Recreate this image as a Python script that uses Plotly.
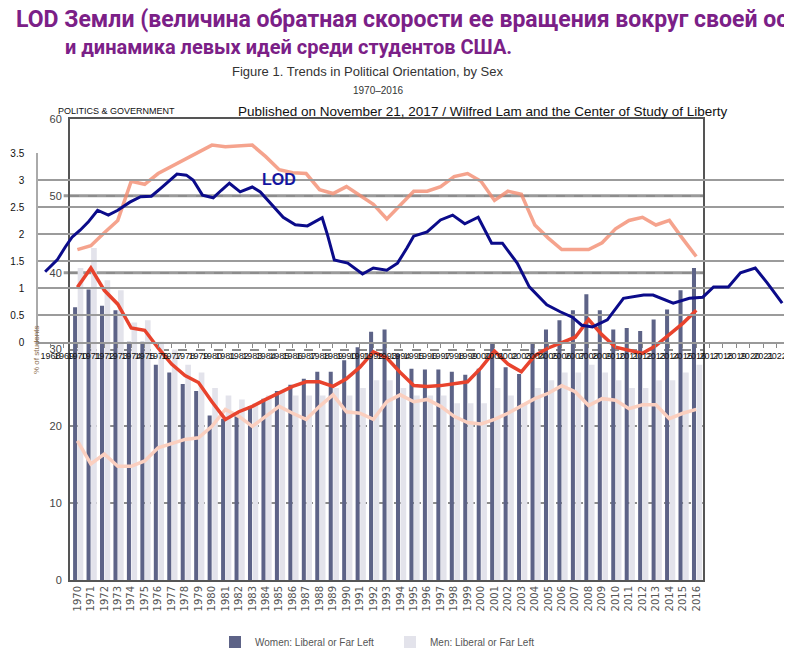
import plotly.graph_objects as go

PAGE_W, PAGE_H = 792, 659
OFF = 8                      # default page margin of the html body
W, H = PAGE_W - OFF, PAGE_H - OFF

# ---------------- data ----------------
years = list(range(1970, 2017))

women_liberal = [35.5, 37.8, 35.7, 35.1, 31.0, 31.0, 28.0, 27.0, 25.5, 24.6,
                 21.4, 21.0, 21.7, 22.6, 23.6, 24.6, 25.4, 26.2, 27.1, 27.1,
                 28.6, 30.3, 32.3, 32.6, 29.4, 27.5, 27.4, 27.4, 27.1, 26.7,
                 27.5, 30.7, 27.7, 26.8, 30.7, 32.6, 33.8, 35.1, 37.2, 35.1,
                 32.6, 32.8, 32.4, 33.9, 35.2, 37.7, 40.6]

men_liberal = [40.6, 43.2, 39.0, 37.7, 33.5, 33.8, 31.0, 30.0, 28.0, 27.0,
               25.0, 24.0, 23.5, 23.0, 24.0, 24.5, 24.0, 24.0, 24.0, 25.0,
               24.0, 25.0, 26.0, 26.0, 25.0, 24.0, 24.0, 24.0, 23.0, 23.0,
               23.0, 25.0, 24.0, 23.0, 25.0, 26.0, 27.0, 27.0, 28.0, 27.0,
               26.0, 25.0, 25.0, 26.0, 26.0, 27.0, 28.0]

women_trend = [38.1, 40.6, 37.7, 35.9, 32.8, 32.5, 30.2, 28.1, 26.6, 25.7,
               23.2, 20.9, 21.9, 22.6, 23.5, 24.3, 25.2, 25.8, 25.8, 25.2,
               26.2, 27.7, 29.7, 28.9, 27.0, 25.3, 25.2, 25.3, 25.5, 25.8,
               27.6, 29.8, 28.1, 27.1, 29.2, 30.2, 30.9, 31.6, 33.9, 31.9,
               30.3, 29.9, 29.5, 30.5, 31.9, 33.4, 35.1]

men_trend = [18.1, 15.1, 16.4, 14.8, 14.8, 15.5, 17.2, 17.7, 18.3, 18.5,
             20.0, 22.2, 21.3, 20.0, 21.3, 22.6, 21.7, 20.9, 22.6, 24.1,
             21.9, 21.7, 20.9, 23.2, 24.1, 23.2, 23.5, 22.6, 21.3, 20.5,
             20.3, 20.9, 21.7, 22.7, 23.6, 24.3, 25.3, 24.5, 22.7, 23.6,
             23.4, 22.3, 22.8, 22.8, 21.0, 21.7, 22.2]

upper_trend = [43.0, 43.5, 45.2, 46.8, 51.9, 51.5, 52.9, 53.8, 54.7, 55.6,
               56.6, 56.4, 56.5, 56.6, 55.1, 53.4, 53.0, 52.9, 50.8, 50.3,
               51.2, 50.1, 48.9, 47.0, 48.8, 50.6, 50.6, 51.2, 52.5, 52.9,
               51.9, 49.4, 50.6, 50.2, 46.2, 44.5, 43.0, 43.0, 43.0, 43.9,
               45.7, 46.8, 47.2, 46.2, 46.8, 44.4, 42.1]

lod_years = [1967.6, 1968.5, 1969.1, 1969.6, 1970.2, 1970.8, 1971.5, 1972.3, 1973.0,
             1973.9, 1974.7, 1975.5, 1976.3, 1976.9, 1977.4, 1978.1, 1978.6, 1979.3,
             1980.1, 1980.7, 1981.3, 1982.1, 1983.0, 1983.6, 1984.3, 1985.3, 1986.2,
             1987.1, 1988.2, 1988.6, 1989.1, 1990.1, 1991.2, 1992.0, 1993.0, 1993.8,
             1994.5, 1995.0, 1996.0, 1997.0, 1997.9, 1998.8, 1999.8, 2000.8, 2001.6,
             2002.7, 2003.6, 2004.9, 2005.9, 2006.8, 2007.5, 2008.3, 2009.4, 2010.6,
             2012.1, 2012.8, 2014.3, 2015.5, 2016.5, 2017.3, 2018.4, 2019.3, 2020.4,
             2021.3, 2022.4]
lod_values = [1.30, 1.52, 1.76, 1.94, 2.07, 2.22, 2.44, 2.35, 2.44,
              2.59, 2.69, 2.70, 2.87, 3.00, 3.11, 3.09, 3.00, 2.72,
              2.67, 2.81, 2.94, 2.78, 2.87, 2.78, 2.59, 2.31, 2.17,
              2.15, 2.30, 1.98, 1.52, 1.46, 1.26, 1.37, 1.33, 1.46,
              1.74, 1.96, 2.04, 2.26, 2.35, 2.19, 2.31, 1.83, 1.83,
              1.46, 1.02, 0.69, 0.56, 0.46, 0.31, 0.28, 0.41, 0.81,
              0.87, 0.87, 0.72, 0.81, 0.83, 1.02, 1.02, 1.28, 1.37,
              1.09, 0.72]

lod_axis_years = list(range(1967, 2023))
bar_y_ticks = [0, 10, 20, 30, 40, 50, 60]
lod_y_ticks = [0, 0.5, 1, 1.5, 2, 2.5, 3, 3.5]
lod_y_labels = ["0", "0.5", "1", "1.5", "2", "2.5", "3", "3.5"]


def px(p):
    """page pixel x -> paper fraction"""
    return (p - OFF) / W


def py(p):
    """page pixel y -> paper fraction"""
    return 1 - (p - OFF) / H


fig = go.Figure()

fig.add_trace(go.Bar(x=years, y=women_liberal, name="Women: Liberal or Far Left",
                     marker=dict(color="#5d6387", line=dict(width=0)),
                     width=0.3, offset=-0.32, xaxis="x", yaxis="y"))
fig.add_trace(go.Bar(x=years, y=men_liberal, name="Men: Liberal or Far Left",
                     marker=dict(color="#e3e3eb", line=dict(width=0)),
                     width=0.42, offset=0.02, xaxis="x", yaxis="y"))

fig.add_trace(go.Scatter(x=years, y=upper_trend, mode="lines", showlegend=False,
                         line=dict(color="rgba(243,140,112,0.8)", width=3.5),
                         xaxis="x", yaxis="y"))
fig.add_trace(go.Scatter(x=years, y=men_trend, mode="lines", showlegend=False,
                         line=dict(color="#fbcfbf", width=3.5),
                         xaxis="x", yaxis="y"))
fig.add_trace(go.Scatter(x=years, y=women_trend, mode="lines", showlegend=False,
                         line=dict(color="#e8432d", width=3.5),
                         xaxis="x", yaxis="y"))

fig.add_trace(go.Scatter(x=lod_years, y=lod_values, mode="lines", showlegend=False,
                         line=dict(color="#0b0b8a", width=3),
                         xaxis="x2", yaxis="y2"))

fig.update_layout(
    width=W, height=H, autosize=False,
    margin=dict(l=0, r=0, t=0, b=0, autoexpand=False),
    paper_bgcolor="white", plot_bgcolor="rgba(0,0,0,0)",
    barmode="overlay",
    font=dict(family="Liberation Sans, Arial, sans-serif", color="#333"),
    xaxis=dict(domain=[px(70), px(703)], range=[1969.45, 2016.5], anchor="y",
               automargin=False,
               tickmode="array", tickvals=years, ticktext=[str(y) for y in years],
               tickangle=-90, tickfont=dict(size=10, color="#555", family="DejaVu Sans"),
               showgrid=False, zeroline=False, showline=True, linecolor="#555",
               linewidth=2, mirror=True, ticks=""),
    yaxis=dict(domain=[py(580), py(119)], range=[0, 60], anchor="x",
               automargin=False,
               tickmode="array", tickvals=bar_y_ticks,
               tickfont=dict(size=11, color="#444"),
               showgrid=True, gridcolor="#8c8c8c", griddash="dash", gridwidth=2,
               zeroline=False, showline=True, linecolor="#555", linewidth=2,
               mirror=True, ticks="", ticklabelstandoff=4),
    xaxis2=dict(domain=[px(38), px(787)], range=[1967.07, 2022.76], anchor="y2",
                automargin=False,
                tickmode="array", tickvals=lod_axis_years,
                ticktext=[str(y) for y in lod_axis_years], tickangle=0,
                tickfont=dict(size=9, color="#111"),
                ticks="outside", ticklen=4, tickcolor="#888",
                showgrid=False, zeroline=False, showline=True, linecolor="#999",
                linewidth=2),
    yaxis2=dict(domain=[py(342), py(153)], range=[0, 3.5], anchor="x2",
                automargin=False,
                tickmode="array", tickvals=lod_y_ticks, ticktext=lod_y_labels,
                tickfont=dict(size=10, color="#111"),
                showgrid=True, gridcolor="#9b9b9b", gridwidth=2,
                zeroline=False, showline=True, linecolor="#aaa", linewidth=1.5,
                ticks="", ticklabelstandoff=10),
    legend=dict(orientation="h", x=px(215), xanchor="left", y=py(642), yanchor="middle",
                font=dict(size=10, color="#555"), bgcolor="rgba(0,0,0,0)",
                itemwidth=30, entrywidthmode="pixels", entrywidth=130),
    showlegend=True,
)

# solid reference lines of the bar chart at 40 and 50
for lvl in (40, 50):
    fig.add_shape(type="line", xref="x domain", yref="y", x0=-0.01, x1=1,
                  y0=lvl, y1=lvl, line=dict(color="#9a9a9a", width=3), layer="below")

ann = [
    dict(text="<b>LOD Земли (величина обратная скорости ее вращения вокруг своей оси)</b>",
         x=px(14), y=py(19), xanchor="left", yanchor="middle",
         font=dict(family="Roboto, Open Sans, sans-serif", size=23, color="#7b2087")),
    dict(text="<b>и динамика левых идей среди студентов США.</b>",
         x=px(63), y=py(47), xanchor="left", yanchor="middle",
         font=dict(family="Roboto, Open Sans, sans-serif", size=20, color="#7b2087")),
    dict(text="Figure 1. Trends in Political Orientation, by Sex",
         x=px(367), y=py(71), xanchor="center", yanchor="middle",
         font=dict(family="Liberation Sans Narrow, Liberation Sans, sans-serif", size=13, color="#333")),
    dict(text="1970–2016",
         x=px(378), y=py(91), xanchor="center", yanchor="middle",
         font=dict(family="Liberation Sans Narrow, Liberation Sans, sans-serif", size=10, color="#333")),
    dict(text="POLITICS & GOVERNMENT",
         x=px(56), y=py(111), xanchor="left", yanchor="middle",
         font=dict(family="Liberation Sans Narrow, Liberation Sans, sans-serif", size=9, color="#111")),
    dict(text="Published on November 21, 2017 / Wilfred Lam and the Center of Study of Liberty",
         x=px(236), y=py(111), xanchor="left", yanchor="middle",
         font=dict(family="Liberation Sans, sans-serif", size=13.5, color="#111")),
    dict(text="% of students", textangle=-90,
         x=px(37), y=py(350), xanchor="center", yanchor="middle",
         font=dict(size=8, color="#8a6d4d")),
]
for a in ann:
    fig.add_annotation(xref="paper", yref="paper", showarrow=False, **a)

fig.add_annotation(xref="x2", yref="y2", x=1985.0, y=3.0, text="<b>LOD</b>",
                   showarrow=False, font=dict(size=16, color="#1515a0"))

fig.write_html("out.html")
